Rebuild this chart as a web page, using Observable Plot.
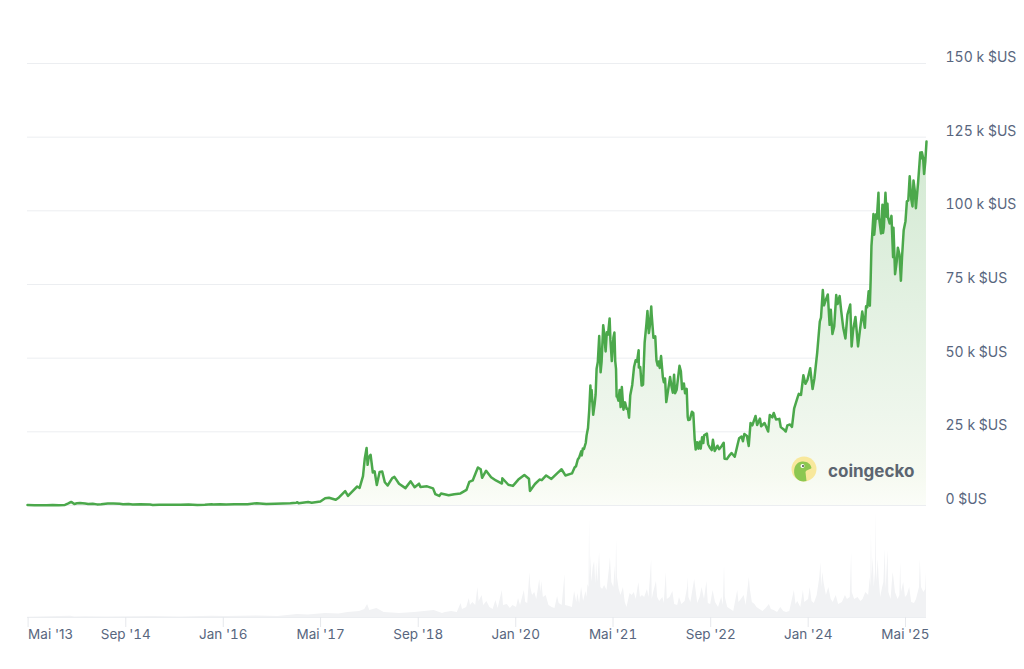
<!DOCTYPE html>
<html><head><meta charset="utf-8">
<script src="https://cdn.jsdelivr.net/npm/d3@7"></script>
<script src="https://cdn.jsdelivr.net/npm/@observablehq/plot@0.6"></script>
<style>
body{margin:0;background:#fff;}
#wrap{position:relative;width:1024px;height:669px;overflow:hidden;font-family:Inter, "Noto Sans", sans-serif;}
#vol{position:absolute;left:0;top:505px;}
#price{position:absolute;left:0;top:0;}
#logo{position:absolute;left:790px;top:455px;}
</style></head><body>
<div id="wrap"><div id="vol"></div><div id="price"></div><div id="logo"></div></div>
<script>
const priceDates = [
"2013-04-28","2013-06-01","2013-07-05","2013-08-01","2013-09-01","2013-10-01","2013-11-01","2013-11-18","2013-11-30","2013-12-04","2013-12-18","2013-12-31",
"2014-01-15","2014-02-10","2014-02-25","2014-03-20","2014-04-10","2014-05-01","2014-06-03","2014-07-01","2014-08-01","2014-08-18","2014-09-15","2014-10-05","2014-11-12","2014-12-31",
"2015-01-14","2015-02-15","2015-03-10","2015-04-14","2015-06-01","2015-07-12","2015-08-24","2015-10-01","2015-11-04","2015-11-11","2015-12-16",
"2016-01-15","2016-02-25","2016-04-01","2016-05-01","2016-06-17","2016-07-01","2016-08-03","2016-09-15","2016-10-25","2016-12-01","2016-12-31",
"2017-01-05","2017-01-11","2017-02-28","2017-03-18","2017-04-30","2017-05-24","2017-06-12","2017-07-16","2017-08-01","2017-09-01","2017-09-15","2017-10-01","2017-10-31","2017-11-12","2017-11-29","2017-12-08","2017-12-17","2017-12-22","2017-12-27",
"2018-01-06","2018-01-17","2018-01-26","2018-02-06","2018-02-20","2018-03-05","2018-03-18","2018-04-01","2018-04-24","2018-05-05","2018-05-28","2018-06-29","2018-07-25","2018-08-14","2018-09-05","2018-09-12","2018-10-15","2018-11-14","2018-11-25","2018-12-15","2018-12-24",
"2019-01-31","2019-02-28","2019-03-31","2019-04-30","2019-05-14","2019-05-31","2019-06-26","2019-07-10","2019-07-17","2019-08-06","2019-08-31","2019-09-24","2019-10-24","2019-10-26","2019-11-25","2019-12-18",
"2020-01-14","2020-02-13","2020-03-07","2020-03-12","2020-04-06","2020-04-29","2020-05-10","2020-06-01","2020-06-27","2020-07-27","2020-08-17","2020-09-05","2020-10-08","2020-10-21","2020-10-28","2020-11-06","2020-11-13","2020-11-23","2020-11-26","2020-12-01","2020-12-07","2020-12-16","2020-12-20","2020-12-27",
"2021-01-02","2021-01-08","2021-01-11","2021-01-14","2021-01-22","2021-01-29","2021-02-03","2021-02-08","2021-02-14","2021-02-21","2021-02-28","2021-03-05","2021-03-13","2021-03-18","2021-03-25","2021-03-31","2021-04-06","2021-04-14","2021-04-18","2021-04-25","2021-05-03","2021-05-08","2021-05-12","2021-05-16","2021-05-19","2021-05-21","2021-05-28","2021-06-03","2021-06-08","2021-06-14","2021-06-22","2021-06-30","2021-07-08","2021-07-14","2021-07-20","2021-07-26","2021-08-05","2021-08-14","2021-08-22","2021-08-29","2021-09-06","2021-09-07","2021-09-14","2021-09-21","2021-09-28","2021-10-06","2021-10-15","2021-10-20","2021-10-27","2021-11-01","2021-11-08","2021-11-10","2021-11-19","2021-11-24","2021-11-28","2021-12-04","2021-12-10","2021-12-15","2021-12-20","2021-12-27",
"2022-01-05","2022-01-10","2022-01-16","2022-01-22","2022-01-28","2022-02-10","2022-02-17","2022-02-24","2022-03-02","2022-03-07","2022-03-15","2022-03-29","2022-04-05","2022-04-11","2022-04-20","2022-04-26","2022-05-04","2022-05-09","2022-05-12","2022-05-20","2022-05-30","2022-06-06","2022-06-13","2022-06-18","2022-06-25","2022-07-02","2022-07-08","2022-07-13","2022-07-20","2022-07-26","2022-07-30","2022-08-13","2022-08-19","2022-08-28","2022-09-06","2022-09-12","2022-09-21","2022-10-05","2022-10-13","2022-10-25","2022-11-05","2022-11-09","2022-11-21","2022-12-05","2022-12-14","2022-12-30",
"2023-01-14","2023-01-21","2023-02-02","2023-02-09","2023-02-16","2023-03-01","2023-03-10","2023-03-19","2023-03-28","2023-04-13","2023-04-21","2023-05-05","2023-05-11","2023-05-28","2023-06-15","2023-06-23","2023-07-06","2023-07-13","2023-07-24","2023-08-10","2023-08-17","2023-09-01","2023-09-11","2023-09-19","2023-10-02","2023-10-12","2023-10-23","2023-11-09","2023-11-15","2023-11-26","2023-12-08","2023-12-18","2023-12-28",
"2024-01-11","2024-01-23","2024-02-01","2024-02-15","2024-02-28","2024-03-05","2024-03-14","2024-03-20","2024-03-27","2024-04-08","2024-04-17","2024-04-23","2024-05-01","2024-05-10","2024-05-20","2024-05-27","2024-06-06","2024-06-14","2024-06-24","2024-07-05","2024-07-15","2024-07-29","2024-08-05","2024-08-12","2024-08-24","2024-09-06","2024-09-15","2024-09-27","2024-10-10","2024-10-16","2024-10-22","2024-10-29","2024-11-04","2024-11-08","2024-11-12","2024-11-15","2024-11-22","2024-11-26","2024-12-05","2024-12-09","2024-12-17","2024-12-20","2024-12-30",
"2025-01-06","2025-01-09","2025-01-13","2025-01-21","2025-01-27","2025-01-31","2025-02-03","2025-02-11","2025-02-20","2025-02-28","2025-03-02","2025-03-10","2025-03-18","2025-03-24","2025-04-01","2025-04-08","2025-04-14","2025-04-22","2025-05-01","2025-05-08","2025-05-15","2025-05-22","2025-05-30","2025-06-05","2025-06-10","2025-06-16","2025-06-22","2025-07-03","2025-07-10","2025-07-14","2025-07-18","2025-07-22","2025-07-28","2025-08-02","2025-08-08","2025-08-14"
];
const priceValues = [
135,120,70,105,140,125,205,700,1150,1150,520,750,
860,680,530,580,380,450,670,640,590,450,470,320,420,320,
180,240,290,220,225,310,210,237,400,310,455,
375,425,415,450,760,675,515,605,655,755,965,
1100,785,1190,960,1350,2450,2650,1930,2730,4900,3250,4400,6450,5950,10000,16000,19500,13800,16200,
17200,11200,11600,6950,11400,11500,7900,6800,9300,9700,7400,5900,8200,6200,7400,6300,6500,5800,3900,3250,4050,
3450,3850,4100,5300,8000,8500,12900,12300,9400,11800,9600,8500,7450,9250,7050,6650,
8800,10350,9100,4950,7300,8800,8600,10200,9000,11000,12300,10200,10900,12900,13300,15600,16300,18400,17000,19300,19200,21300,23800,26300,
32200,40700,35500,39200,30800,34300,37600,46400,48700,57500,45200,48800,61200,58200,52300,58800,58000,63500,56200,49000,57000,58700,49000,46400,37000,37300,35600,39200,33400,40200,32500,35000,32800,32800,29800,37300,40900,47000,49300,48800,52700,46800,47000,40700,41000,55300,61700,66000,58500,61000,67500,64900,56900,57000,57400,49200,47500,48900,46700,50700,
43500,41800,43100,35100,37700,43600,40500,38300,44400,38100,39300,47400,45500,39500,41400,38100,39600,30100,29000,29200,31800,31400,22400,19000,21500,19300,21600,19300,23200,21200,23800,24400,20800,19600,18800,22300,18500,20300,19100,20100,21300,15900,15800,17100,17800,16550,
20900,22800,23400,21800,24300,23600,20200,28000,27200,30400,27300,29500,26900,28000,25100,30700,29900,31400,29200,29400,26600,25800,25100,27200,27500,26700,33000,36700,37900,37500,44200,41300,42600,
46600,39500,43100,51900,62400,63800,73100,67900,69400,71600,61300,66400,58200,60800,71400,68400,71100,66000,60300,56700,64800,68200,54000,59300,64000,54000,59200,65800,60300,67600,67300,72700,67800,76500,88000,91000,98900,91900,98800,97300,106100,97700,92300,
102100,92500,94500,106100,98000,102400,97700,95700,98300,84300,94300,78500,82700,87500,85200,76300,84500,93400,96500,103200,103500,111700,103900,101500,110300,107100,100900,109600,116000,119800,117800,119900,118000,112500,116700,123500
];
const volumeDates = [
"2013-04-28","2013-11-30","2013-12-20","2014-02-10","2014-06-01","2015-01-14","2015-06-01","2015-11-05","2016-01-15","2016-06-17","2016-10-01",
"2017-01-05","2017-03-01","2017-05-25","2017-08-01","2017-09-15","2017-11-12","2017-12-08","2017-12-22",
"2018-01-02","2018-02-06","2018-03-15","2018-06-01","2018-08-14","2018-11-20","2018-12-31",
"2019-01-15","2019-02-15","2019-03-15","2019-04-03","2019-04-10","2019-05-01","2019-05-14","2019-05-20","2019-06-01","2019-06-15","2019-06-26","2019-07-02","2019-07-17","2019-07-25","2019-08-10","2019-08-25","2019-09-10","2019-09-24","2019-10-05","2019-10-26","2019-11-01","2019-11-20","2019-12-05","2019-12-18",
"2020-01-05","2020-01-15","2020-01-25","2020-02-13","2020-02-20","2020-03-01","2020-03-12","2020-03-16","2020-03-25","2020-04-05","2020-04-15","2020-04-30","2020-05-05","2020-05-10","2020-05-18","2020-06-01","2020-06-15","2020-07-01","2020-07-15","2020-07-28","2020-08-05","2020-08-20","2020-09-03","2020-09-06","2020-09-25","2020-10-10","2020-10-21","2020-11-01","2020-11-06","2020-11-15","2020-11-25","2020-12-05","2020-12-17","2020-12-22","2020-12-27",
"2021-01-01","2021-01-04","2021-01-07","2021-01-11","2021-01-15","2021-01-22","2021-01-29","2021-02-04","2021-02-08","2021-02-14","2021-02-23","2021-03-01","2021-03-10","2021-03-20","2021-04-01","2021-04-14","2021-04-18","2021-04-25","2021-05-05","2021-05-12","2021-05-15","2021-05-19","2021-05-23","2021-06-01","2021-06-10","2021-06-22","2021-07-01","2021-07-10","2021-07-25","2021-08-05","2021-08-15","2021-08-25","2021-09-07","2021-09-15","2021-09-25","2021-10-06","2021-10-20","2021-10-28","2021-11-10","2021-11-13","2021-11-20","2021-12-04","2021-12-10","2021-12-20",
"2022-01-05","2022-01-12","2022-01-22","2022-01-27","2022-02-10","2022-02-24","2022-03-05","2022-03-20","2022-03-29","2022-04-10","2022-04-26","2022-05-09","2022-05-12","2022-05-15","2022-05-25","2022-06-13","2022-06-18","2022-06-28","2022-07-10","2022-07-20","2022-08-01","2022-08-13","2022-08-20","2022-09-01","2022-09-13","2022-09-25","2022-10-10","2022-10-26","2022-11-03","2022-11-09","2022-11-13","2022-11-25","2022-12-10","2022-12-25",
"2023-01-14","2023-01-20","2023-02-01","2023-02-15","2023-02-25","2023-03-13","2023-03-18","2023-03-28","2023-04-10","2023-04-20","2023-05-05","2023-05-20","2023-06-05","2023-06-21","2023-07-01","2023-07-15","2023-08-01","2023-08-17","2023-09-01","2023-09-15","2023-10-01","2023-10-24","2023-11-01","2023-11-10","2023-11-25","2023-12-08","2023-12-15",
"2024-01-03","2024-01-11","2024-01-20","2024-02-01","2024-02-15","2024-02-28","2024-03-05","2024-03-08","2024-03-14","2024-03-20","2024-04-01","2024-04-13","2024-04-25","2024-05-05","2024-05-20","2024-06-01","2024-06-20","2024-07-05","2024-07-15","2024-07-29","2024-08-05","2024-08-08","2024-08-20","2024-09-06","2024-09-20","2024-10-01","2024-10-15","2024-10-29","2024-11-06","2024-11-09","2024-11-12","2024-11-15","2024-11-21","2024-11-26","2024-12-02","2024-12-05","2024-12-08","2024-12-16","2024-12-20","2024-12-28",
"2025-01-07","2025-01-13","2025-01-20","2025-01-24","2025-02-03","2025-02-07","2025-02-18","2025-02-28","2025-03-04","2025-03-12","2025-03-25","2025-04-03","2025-04-07","2025-04-11","2025-04-22","2025-05-01","2025-05-10","2025-05-22","2025-06-01","2025-06-15","2025-06-25","2025-07-10","2025-07-14","2025-07-20","2025-08-01","2025-08-10","2025-08-14"
];
const volumeValues = [
0.3,1.2,0.6,0.8,0.4,1.0,0.4,1.2,1.0,1.5,1.0,
3,2.5,4,3.5,5,6,8,13,
7,9,5,4,5,7,4,
5,6,5,14,8,10,19,12,15,12,30,16,22,12,16,10,8,17,9,27,12,13,9,12,
10,19,12,27,15,14,45,30,22,25,18,38,25,36,20,22,12,10,9,21,14,12,43,12,11,10,26,15,24,14,30,16,26,20,33,
30,100,40,62,35,50,56,33,55,35,65,30,28,32,27,50,60,35,30,52,30,78,40,28,22,30,15,10,24,22,25,18,35,20,22,20,28,20,58,18,25,36,20,16,
20,14,45,18,20,26,13,12,20,13,16,30,40,20,15,38,30,14,20,30,18,36,14,13,27,15,10,20,12,52,20,10,8,6,
27,15,18,22,12,40,28,15,13,10,8,6,9,13,8,7,5,10,6,5,6,27,13,16,10,27,15,
18,30,16,14,22,40,55,30,45,35,22,30,18,15,22,13,15,22,18,20,65,25,18,20,16,18,25,22,40,30,85,40,60,30,45,107,35,58,40,20,
30,35,68,28,67,25,18,45,40,25,18,22,55,25,35,20,22,30,15,14,18,30,58,30,25,28,45
];
const yTicks = [0, 25000, 50000, 75000, 100000, 125000, 150000];
const xTickDates = ["2013-05-01","2014-09-01","2016-01-01","2017-05-01","2018-09-01","2020-01-01","2021-05-01","2022-09-01","2024-01-01","2025-05-01"];
const xTickLabels = ["Mai '13","Sep '14","Jan '16","Mai '17","Sep '18","Jan '20","Mai '21","Sep '22","Jan '24","Mai '25"];

const prices = priceDates.map((d, i) => ({date: new Date(d), price: priceValues[i]}));
const volumes = volumeDates.map((d, i) => ({date: new Date(d), volume: volumeValues[i]}));
const ticks = xTickDates.map(d => new Date(d));
const xDomain = [new Date("2013-04-28"), new Date("2025-08-14")];
const textColor = "#58667e";
const fontFamily = "Inter, 'Noto Sans', sans-serif";

const gradDefs = () => {
  const defs = d3.create("svg:defs");
  const g = defs.append("linearGradient").attr("id", "priceGrad").attr("x1", 0).attr("y1", 0).attr("x2", 0).attr("y2", 1);
  g.append("stop").attr("offset", "0%").attr("stop-color", "#d2e9d2");
  g.append("stop").attr("offset", "45%").attr("stop-color", "#e3f1e2");
  g.append("stop").attr("offset", "75%").attr("stop-color", "#eef6ec");
  g.append("stop").attr("offset", "92%").attr("stop-color", "#f6faf1");
  g.append("stop").attr("offset", "100%").attr("stop-color", "#fbfdf8");
  return defs.node();
};

const priceChart = Plot.plot({
  width: 1024, height: 510,
  marginLeft: 27, marginRight: 98, marginTop: 63, marginBottom: 5,
  style: {fontFamily, fontSize: "14px", color: textColor, background: "transparent", overflow: "visible"},
  x: {type: "utc", domain: xDomain, axis: null},
  y: {domain: [0, 150000], axis: null},
  marks: [
    gradDefs,
    Plot.ruleY(yTicks, {stroke: "#eceef1", strokeWidth: 1}),
    Plot.areaY(prices, {x: "date", y: "price", fill: "url(#priceGrad)"}),
    Plot.lineY(prices, {x: "date", y: "price", stroke: "#4ba84b", strokeWidth: 2.5, strokeLinejoin: "round"}),
    Plot.axisY({anchor: "right", ticks: yTicks, tickSize: 0, tickPadding: 19, dy: -6, label: null,
      fill: textColor, textAnchor: "start", fontSize: 14,
      tickFormat: d => d === 0 ? "0 $US" : `${d / 1000} k $US`})
  ]
});
document.getElementById("price").append(priceChart);

const volChart = Plot.plot({
  width: 1024, height: 164,
  marginLeft: 27, marginRight: 98, marginTop: 0, marginBottom: 52,
  style: {fontFamily, fontSize: "13.5px", color: textColor, background: "transparent", overflow: "visible"},
  x: {type: "utc", domain: xDomain, axis: null},
  y: {domain: [0, 112], axis: null},
  marks: [
    Plot.areaY(volumes, {x: "date", y: "volume", fill: "#f1f2f4"}),
    Plot.ruleY([0], {stroke: "#eceef1"}),
    Plot.axisX({ticks: ticks, tickSize: 10, tickPadding: 2, stroke: "#e6e8ec", fill: textColor, label: null, fontSize: 13.5,
      tickFormat: d => { const i = ticks.findIndex(t => +t === +d); return i === 0 ? "" : xTickLabels[i]; }}),
    Plot.text([ticks[0]], {x: d => d, frameAnchor: "bottom", dy: 12, lineAnchor: "top", textAnchor: "start", fontSize: 13.5,
      text: () => xTickLabels[0], fill: textColor})
  ]
});
document.getElementById("vol").append(volChart);

document.getElementById("logo").innerHTML = `
<svg width="135" height="34" xmlns="http://www.w3.org/2000/svg">
  <circle cx="14" cy="14" r="12.5" fill="#f8e89c"/>
  <path d="M4.5 20 C3 13 6 7 12 6.5 C17 6 21 9 21.5 13 C19.5 15 16.5 14.5 15.5 17 L16.5 26 C11 27.5 6.5 25 4.5 20 Z" fill="#8cc751"/>
  <circle cx="12.5" cy="11" r="2" fill="#ffffff"/>
  <circle cx="13" cy="11" r="1" fill="#4a4a4a"/>
  <text x="38" y="22" font-family="${fontFamily}" font-weight="700" font-size="17" fill="#5c6570">coingecko</text>
</svg>`;
</script>
</body></html>
